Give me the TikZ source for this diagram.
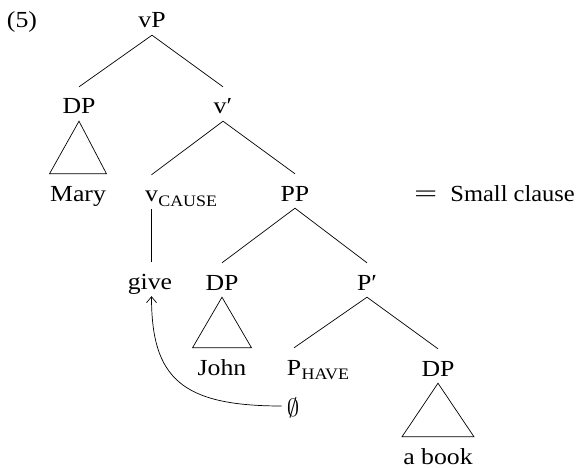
\documentclass[tikz,border=0pt]{standalone}
\usepackage{fontspec}
\setmainfont{Liberation Serif}[FakeStretch=1.12]
\usetikzlibrary{arrows.meta}
\begin{document}
\begin{tikzpicture}[x=1pt,y=-1pt]
\tikzset{
  lbl/.style={anchor=base, inner sep=0pt, text height=27pt, text depth=7pt,
              font=\fontsize{23}{27}\selectfont},
  subscr/.style={anchor=base west, inner sep=0pt, yshift=-4.5pt,
              font=\fontsize{16}{18}\selectfont},
  branch/.style={line width=0.7pt},
  movement/.style={line width=0.7pt, -{Straight Barb[length=6pt,width=10pt]}},
}
\useasboundingbox (0,0) rectangle (576,468);

% labels
\node[lbl] (ex)    at (22,28)   {(5)};
\node[lbl] (vp)    at (152,28)  {vP};
\node[lbl] (dp1)   at (79,114)  {DP};
\node[lbl] (vbar)  at (223,114) {v′};
\node[lbl] (mary)  at (78,201)  {Mary};
\node[lbl] (vc)    at (151.5,202) {v};
\node[subscr] (vcsub) at (vc.base east) {CAUSE};
\node[lbl] (pp)    at (295,201) {PP};
\node[lbl] (give)  at (150,289) {give};
\node[lbl] (dp2)   at (222,290) {DP};
\node[lbl] (pbar)  at (367,290) {P′};
\node[lbl] (john)  at (222,375) {John};
\node[lbl] (ph)    at (294,375) {P};
\node[subscr] (phsub) at (ph.base east) {HAVE};
\node[lbl] (dp3)   at (438,376) {DP};
\node[lbl, inner xsep=5pt] (zero) at (293,416) {$\emptyset$};
\node[lbl] (book)  at (438,464) {a book};
\node[lbl, anchor=base west] (sc) at (414,201)
  {\scalebox{1.6}[1]{=}\hspace{13pt}\scalebox{0.95}[1]{Small clause}};

% branches
\draw[branch] (vp.south) -- (dp1.north);
\draw[branch] (vp.south) -- (vbar.north);
\draw[branch] (vbar.south) -- (vc.north);
\draw[branch] (vbar.south) -- (pp.north);
\draw[branch] (vc.south) -- (vc.south |- give.north);
\draw[branch] (pp.south) -- (dp2.north);
\draw[branch] (pp.south) -- (pbar.north);
\draw[branch] (pbar.south) -- (ph.north);
\draw[branch] (pbar.south) -- (dp3.north);

% triangles over unanalysed phrases
\draw[branch] (dp1.south) -- ([xshift=-28.5pt]mary.north)
                          -- ([xshift=28.5pt]mary.north) -- cycle;
\draw[branch] (dp2.south) -- ([xshift=-29.5pt]john.north)
                          -- ([xshift=29.5pt]john.north) -- cycle;
\draw[branch] (dp3.south) -- ([xshift=-36pt]book.north)
                          -- ([xshift=36pt]book.north) -- cycle;

% head movement of the null P to v
\draw[movement] (zero.west) .. controls +(-100,0) and +(0,82) .. (vc.south |- give.south);
\end{tikzpicture}
\end{document}
